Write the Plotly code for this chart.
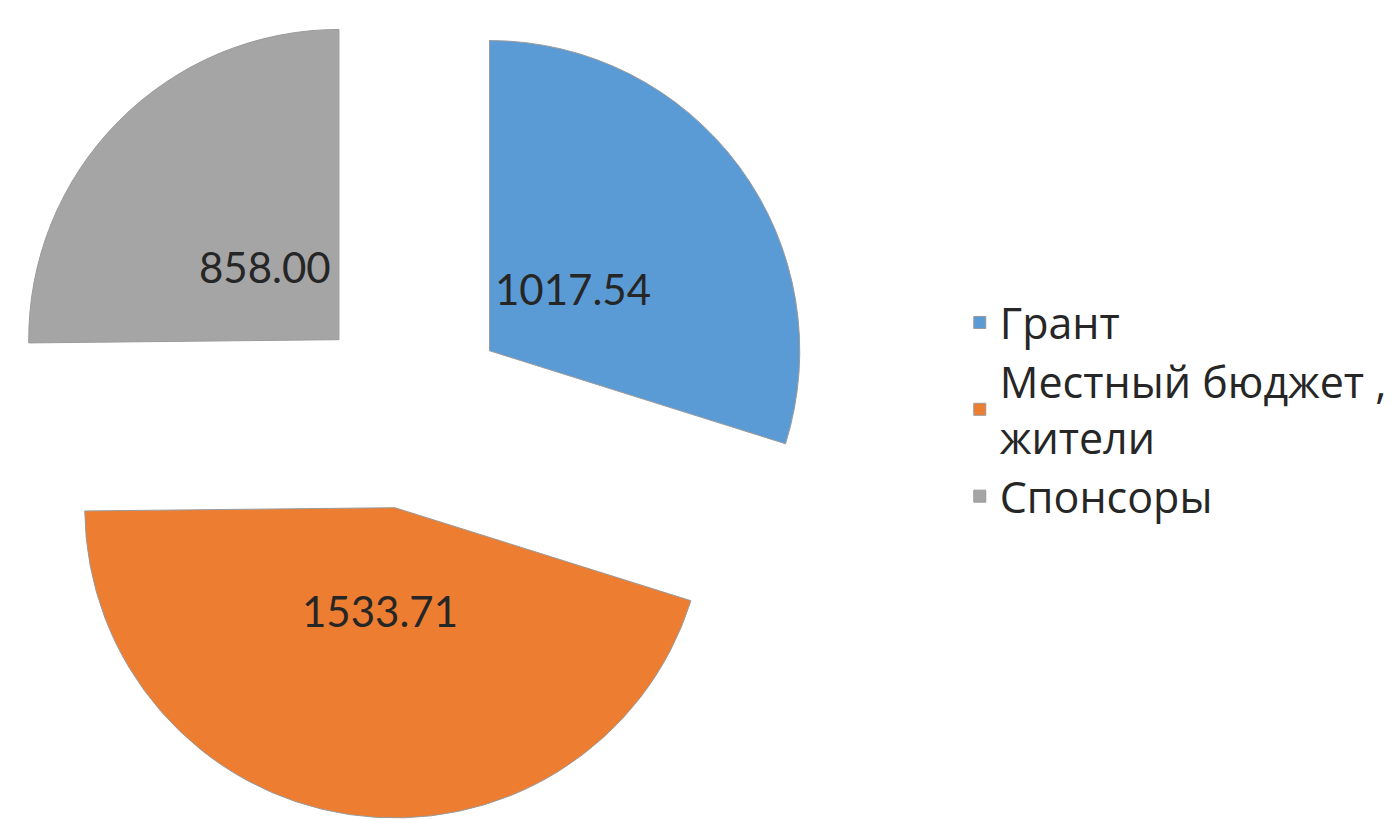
import math
import plotly.graph_objects as go

labels = ["Грант", "Местный бюджет ,<br>жители", "Спонсоры"]
values = [1017.54, 1533.71, 858.00]
colors = ["#5B9BD5", "#ED7D31", "#A5A5A5"]

FIG_W, FIG_H = 1393, 819
PULL = 0.32
DOM_X = [0, 819 / 1393]
DOM_Y = [0, 1]
LABEL_POS = 0.335  # label distance from the slice tip, as a fraction of radius

fig = go.Figure(
    go.Pie(
        labels=labels,
        values=values,
        sort=False,
        direction="clockwise",
        rotation=0,
        pull=[PULL] * len(values),
        marker=dict(colors=colors, line=dict(color="#9a9a9a", width=1)),
        textinfo="none",
        domain=dict(x=DOM_X, y=DOM_Y),
        hoverinfo="label+value+percent",
    )
)

# value labels placed the way the original chart does (near the slice tip),
# derived from the values and the pie geometry
total = sum(values)
w_px = FIG_W * (DOM_X[1] - DOM_X[0])
h_px = FIG_H * (DOM_Y[1] - DOM_Y[0])
r_px = min(w_px, h_px) / (2 * (1 + PULL))
cx = FIG_W * (DOM_X[0] + DOM_X[1]) / 2
cy = FIG_H * (DOM_Y[0] + DOM_Y[1]) / 2  # measured from bottom
cum = 0.0
for v in values:
    mid = (cum + v / 2) / total * 2 * math.pi
    cum += v
    dist = (PULL + LABEL_POS) * r_px
    px = cx + dist * math.sin(mid)
    py = cy + dist * math.cos(mid)
    fig.add_annotation(
        x=px / FIG_W,
        y=py / FIG_H,
        xref="paper",
        yref="paper",
        text=f"{v:.2f}",
        showarrow=False,
        xanchor="center",
        yanchor="middle",
        font=dict(family="Lato, Carlito, sans-serif", size=42, color="#262626"),
    )

fig.update_layout(
    width=FIG_W,
    height=FIG_H,
    margin=dict(l=0, r=0, t=0, b=0),
    paper_bgcolor="white",
    plot_bgcolor="white",
    showlegend=True,
    legend=dict(
        x=0.689,
        xanchor="left",
        y=0.5,
        yanchor="middle",
        font=dict(family="Open Sans, sans-serif", size=43, color="#262626"),
        tracegroupgap=0,
    ),
)

fig.write_html(
    "out.html",
    config={"displayModeBar": False},
    post_script="document.body.style.margin='0';document.body.style.overflow='hidden';",
)
